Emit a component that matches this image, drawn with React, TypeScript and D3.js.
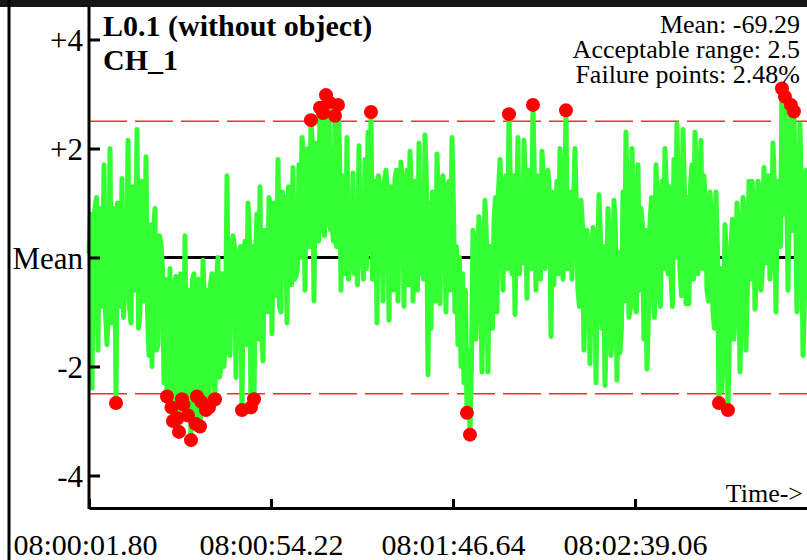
import React, { useEffect, useRef } from 'react';
import * as d3 from 'd3';

// CH_1 readings (offset from mean), one every 0.864 s starting at 08:00:01.80
const ch1Values: number[] = [
    0.1, -2.4, 0.9, -1.7, 0.4, 1.7, -1.6, 2.0, -0.9, -2.67,
    0.3, 1.45, -0.5, 2.15, -1.2, 1.0, 2.35, -1.0, 0.5, 1.85,
    -1.8, -2.0, 0.9, -1.6, 0.25, -2.3, -2.55, -0.2, -3.0, -0.35,
    -3.2, -2.6, 0.4, -2.9, -3.35, -0.3, -2.55, -3.1, -0.05, -2.8,
    -2.75, -0.3, -2.6, 0.0, -2.0, -2.0, 1.5, -1.8, 0.4, -2.2,
    0.1, -2.8, 0.3, 1.0, -2.75, -2.6, 0.8, 1.3, -1.9, 0.3,
    1.1, -1.4, 0.7, 1.8, -1.0, 0.6, -1.2, 0.8, 1.65, -0.35,
    1.7, 2.2, -0.6, 2.0, 2.52, -0.8, 1.6, 2.75, 2.65, 2.98,
    2.85, 0.6, 2.6, 2.8, -0.6, 1.2, 2.2, 0.0, 1.55, 0.2,
    2.05, 0.1, 1.8, 2.3, 2.67, -0.3, -1.2, 1.2, -0.8, 1.6,
    -1.15, 1.15, 1.45, -0.8, 1.75, -0.9, 1.6, 1.95, -0.8, 0.9,
    2.1, 0.1, 2.25, -2.15, -1.3, 0.4, 1.9, -0.85, 1.5, -1.0,
    1.4, 2.2, -1.0, -1.6, -2.0, -2.3, -2.85, -3.25, 0.5, -1.5,
    0.75, -2.1, 1.05, -2.1, -0.4, 0.65, -1.0, 1.8, -0.6, 1.5,
    2.63, -0.3, -1.05, 2.2, 0.5, 2.15, -0.75, 1.5, 2.8, -0.6,
    1.2, 1.95, -0.2, 1.6, -1.45, -0.5, 1.4, 2.0, -0.4, 2.7,
    1.0, -0.4, 2.0, -0.6, 1.05, -1.7, 0.5, -1.95, 0.55, -2.3,
    1.15, -1.3, -2.35, 0.9, -1.8, 1.05, -2.25, -1.75, 1.2, 2.3,
    -1.1, 2.0, -0.9, 1.7, 0.9, -1.5, -2.05, 0.6, -0.65, 1.7,
    -0.6, 1.4, 2.0, -0.3, -0.35, 1.8, 2.45, -0.2, 2.35, -0.85,
    -0.85, 1.7, 2.3, -0.3, 2.15, 1.5, -0.6, 1.2, -1.0, 1.2,
    -2.67, -2.45, 0.6, -2.8, 0.2, -1.5, 1.0, -2.1, 1.1, -1.7,
    1.4, 1.4, -0.95, 1.4, -0.6, 1.65, 1.2, -0.4, 2.1, -1.0,
    0.9, 3.1, 2.95, -0.6, 2.8, 2.68, -1.0, 2.45, -1.8, 1.6
];

// readings half a step (0.432 s) after each of the above
const ch1Between: number[] = [
    0.8, 0.7, 1.1, 0.9, -0.9, -1.0, -0.8, -1.2, 0.9, 1.0,
    -0.9, -1.1, -0.7, -0.9, 1.3, -0.6, -1.3, 1.4, -0.8, -1.0,
    0.6, 0.5, -1.7, 0.4, -0.2, -0.4, -2.2, -2.75, -0.5, -2.95,
    -0.3, -2.7, -2.3, -0.6, -0.4, -3.05, -0.4, -2.65, -0.9, -0.6,
    -0.5, -2.0, -0.4, -2.2, -0.3, -1.4, -1.5, 0.1, 0.2, 0.0,
    0.2, 0.1, -1.6, 0.3, 0.2, 0.0, -1.5, -1.3, 0.5, -1.0,
    0.9, 1.0, -0.7, -0.9, 1.2, 1.1, 1.3, -0.5, -0.4, -0.2,
    0.0, 1.9, 1.9, 0.2, 2.0, 2.1, 0.3, 0.5, 0.4, 0.6,
    0.5, 0.3, 0.2, 2.0, 1.5, -0.3, -0.4, -0.2, -0.3, -0.5,
    -0.1, -0.4, -0.2, 0.1, -0.4, 1.4, 1.5, 1.3, 1.4, 1.2,
    1.3, -0.6, 1.6, 1.2, 1.3, 1.1, -0.5, 1.2, 1.4, -0.6,
    -0.3, -0.4, 1.3, 1.0, 1.2, -0.8, 1.0, 1.2, 0.9, 1.3,
    -0.6, 0.9, 0.2, 0.0, -0.3, -0.6, -1.7, -2.0, -0.2, -0.2,
    0.1, -0.3, 0.3, 0.2, -1.3, 1.1, 1.2, 1.0, 1.3, -0.2,
    1.2, 1.5, 0.9, -0.3, -0.1, 1.3, 1.6, -0.2, 1.4, 1.5,
    -0.4, 1.4, 0.9, 1.1, 1.2, 0.8, -0.3, 1.2, 0.9, -0.2,
    1.2, 0.9, 0.8, -0.9, 0.6, -0.2, 0.1, -0.1, 0.3, -0.3,
    0.4, 0.2, -1.2, 0.4, -1.4, 0.5, 0.1, -1.3, -0.8, 0.9,
    -0.9, 1.0, -1.0, -0.6, 0.6, 0.5, -1.0, 1.1, -1.1, 1.0,
    -0.9, -0.2, 1.3, 1.3, -0.9, 0.0, 1.1, -0.7, 1.2, 1.1,
    1.3, -0.4, 1.4, 1.2, -0.2, 0.9, -0.8, 0.8, -1.3, 0.2,
    -0.2, -1.6, 0.0, -1.4, 0.7, -0.9, 0.6, -0.8, 0.8, -0.5,
    -0.4, 1.1, -0.3, 1.3, -0.2, -0.1, 1.5, 0.0, 1.3, 1.4,
    0.2, 0.8, 1.8, 1.5, 0.5, 1.2, 0.3, 1.0, -0.8, -0.5
];

const startSec = 1.8;
const sampleSec = 0.864;

const xTickSeconds: number[] = [1.8, 54.22, 106.64, 159.06];
const xTickLabels: string[] = ['08:00:01.80', '08:00:54.22', '08:01:46.64', '08:02:39.06'];
const yTickValues: number[] = [4, 2, 0, -2, -4];
const yTickLabels: string[] = ['+4', '+2', 'Mean', '-2', '-4'];

const meanValue = -69.29;
const acceptableRange = 2.5;
const failurePct = 2.48;

interface Sample {
    t: number;
    v: number;
}

const App: React.FC = () => {
    const svgRef = useRef<SVGSVGElement>(null);

    useEffect(() => {
        if (!svgRef.current) return;

        const width = 807;
        const height = 560;
        const serif = "'Liberation Serif', 'Times New Roman', serif";

        d3.select(svgRef.current).selectAll("*").remove();

        const svg = d3.select(svgRef.current)
            .attr("width", width)
            .attr("height", height);

        // merge the two reading sets in time order
        const samples: Sample[] = [];
        ch1Values.forEach((v, i) => {
            samples.push({ t: startSec + i * sampleSec, v });
            samples.push({ t: startSec + (i + 0.5) * sampleSec, v: ch1Between[i] });
        });

        // 52.42 s between ticks over 182 px
        const xScale = d3.scaleLinear()
            .domain([startSec, startSec + 52.42 * (807 - 89) / 182])
            .range([89, 807]);

        const yScale = d3.scaleLinear()
            .domain([-4, 4])
            .range([475.5, 39.5]);

        svg.append("rect")
            .attr("width", width)
            .attr("height", height)
            .attr("fill", "white");

        // frame
        svg.append("rect")
            .attr("x", 0).attr("y", 0)
            .attr("width", width).attr("height", 7)
            .attr("fill", "#161616");
        svg.append("line")
            .attr("x1", 9).attr("x2", 9)
            .attr("y1", 0).attr("y2", height)
            .attr("stroke", "black")
            .attr("stroke-width", 3);

        // mean line
        svg.append("line")
            .attr("x1", 89).attr("x2", width)
            .attr("y1", yScale(0)).attr("y2", yScale(0))
            .attr("stroke", "black")
            .attr("stroke-width", 3);

        // acceptable range limits
        [acceptableRange, -acceptableRange].forEach(lim => {
            svg.append("line")
                .attr("x1", 89).attr("x2", width)
                .attr("y1", yScale(lim)).attr("y2", yScale(lim))
                .attr("stroke", "#ff2a2a")
                .attr("stroke-width", 1.5)
                .attr("stroke-dasharray", "38,8");
        });

        const line = d3.line<Sample>()
            .x(d => xScale(d.t))
            .y(d => yScale(d.v));

        svg.append("path")
            .datum(samples)
            .attr("fill", "none")
            .attr("stroke", "#33ff33")
            .attr("stroke-width", 5)
            .attr("stroke-linejoin", "round")
            .attr("stroke-linecap", "round")
            .attr("d", line);

        svg.selectAll(".fail")
            .data(samples.filter(d => Math.abs(d.v) > acceptableRange))
            .enter().append("circle")
            .attr("class", "fail")
            .attr("cx", d => xScale(d.t))
            .attr("cy", d => yScale(d.v))
            .attr("r", 7)
            .attr("fill", "#ff0000");

        // y axis
        svg.append("line")
            .attr("x1", 89).attr("x2", 89)
            .attr("y1", 7).attr("y2", 509)
            .attr("stroke", "black")
            .attr("stroke-width", 3);

        const yAxis = d3.axisLeft(yScale)
            .tickValues(yTickValues)
            .tickSizeInner(-11)
            .tickSizeOuter(0)
            .tickPadding(6)
            .tickFormat((_, i) => yTickLabels[i]);

        const yg = svg.append("g")
            .attr("transform", "translate(89,0)")
            .call(yAxis);
        yg.select(".domain").remove();
        yg.selectAll(".tick line").attr("stroke", "black").attr("stroke-width", 3);
        yg.selectAll(".tick text")
            .attr("fill", "black")
            .attr("dy", "0.36em")
            .style("font-family", serif)
            .style("font-size", "31px");

        // x axis
        const xAxis = d3.axisBottom(xScale)
            .tickValues(xTickSeconds)
            .tickSizeInner(-9)
            .tickSizeOuter(0)
            .tickPadding(26)
            .tickFormat((_, i) => xTickLabels[i]);

        const xg = svg.append("g")
            .attr("transform", "translate(0,508)")
            .call(xAxis);
        xg.select(".domain").attr("stroke", "black").attr("stroke-width", 3);
        xg.selectAll(".tick line").attr("stroke", "black").attr("stroke-width", 3);
        xg.selectAll(".tick text")
            .attr("fill", "black")
            .attr("dx", (_, i) => (i === 0 ? -4 : 0))
            .style("font-family", serif)
            .style("font-size", "30px");

        svg.append("text")
            .attr("x", 803).attr("y", 502)
            .attr("text-anchor", "end")
            .style("font-family", serif)
            .style("font-size", "26px")
            .text("Time->");

        // titles
        const title = svg.append("text")
            .attr("x", 103)
            .style("font-family", serif)
            .style("font-size", "30px")
            .style("font-weight", "bold");
        title.append("tspan").attr("x", 103).attr("y", 36).text("L0.1 (without object)");
        title.append("tspan").attr("x", 103).attr("y", 70).text("CH_1");

        const stats = [
            `Mean: ${meanValue.toFixed(2)}`,
            `Acceptable range: ${acceptableRange}`,
            `Failure points: ${failurePct.toFixed(2)}%`
        ];
        svg.selectAll(".stat")
            .data(stats)
            .enter().append("text")
            .attr("class", "stat")
            .attr("x", 800)
            .attr("y", (_, i) => 33 + i * 25)
            .attr("text-anchor", "end")
            .style("font-family", serif)
            .style("font-size", "26px")
            .text(d => d);
    }, []);

    return (
        <svg ref={svgRef} style={{ position: 'absolute', left: 0, top: 0, display: 'block' }}></svg>
    );
};

export default App;
